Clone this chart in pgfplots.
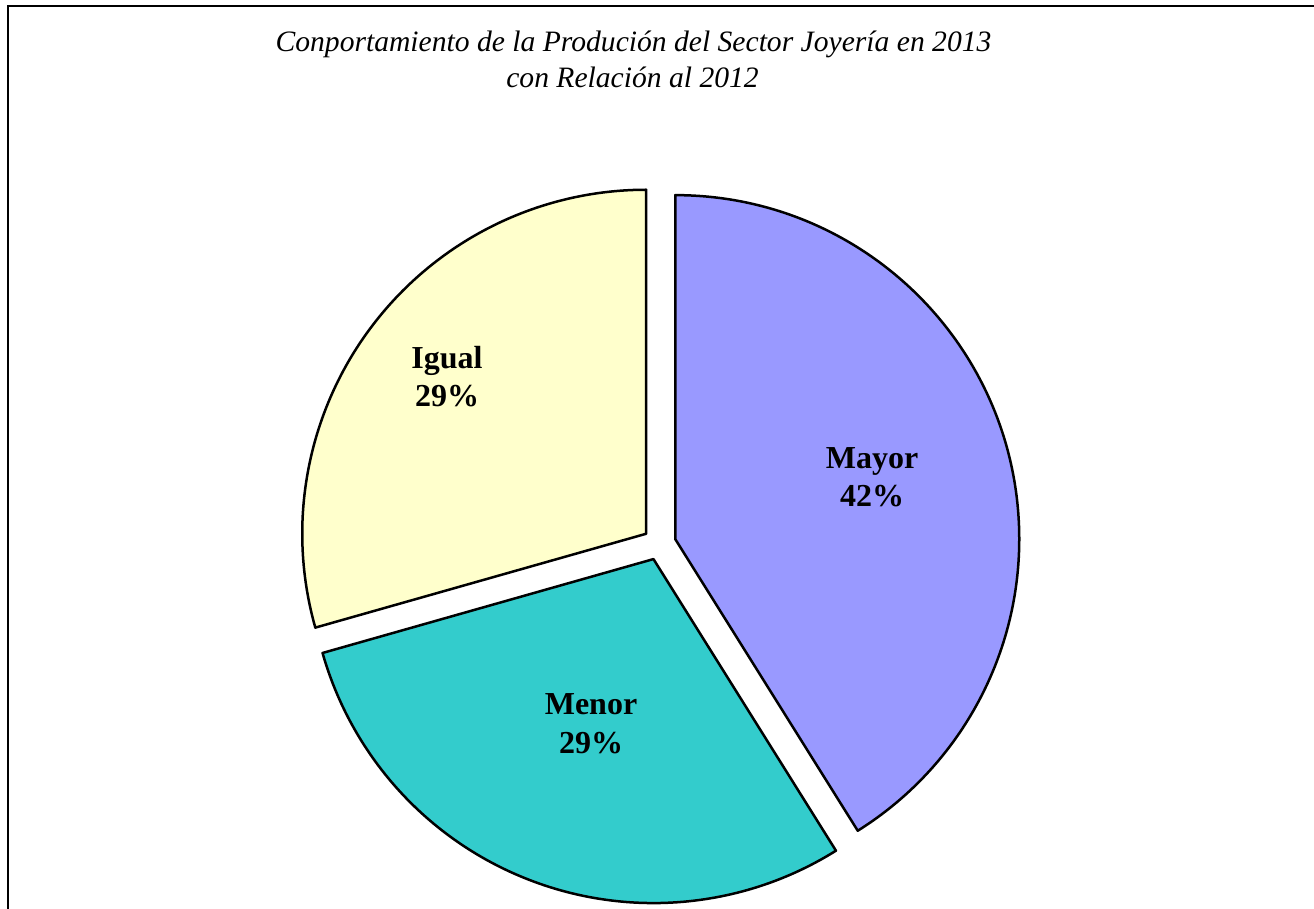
\documentclass[border=0pt]{standalone}
\usepackage{fontspec}
\setmainfont{Liberation Serif}
\usepackage{pgfplots}
\usepackage{pgfplotstable}
\pgfplotsset{compat=1.18}
\definecolor{mayor}{HTML}{9999FF}
\definecolor{menor}{HTML}{33CCCC}
\definecolor{igual}{HTML}{FFFFCC}

% slice values (share of the pie, clockwise from 12 o'clock)
\pgfplotstableread{
label value
Mayor 41.1
Menor 29.5
Igual 29.4
}\piedata

% label positions (picture units) and texts
\pgfplotstableread{
x y lab
872 440 Mayor
591 194 Menor
447 540 Igual
}\namedata
\pgfplotstableread{
x y lab
872 402 42\%
591 155 29\%
447 502 29\%
}\pctdata

\begin{document}
\begin{tikzpicture}
\pgfplotstablegetelem{0}{value}\of\piedata \let\vA\pgfplotsretval
\pgfplotstablegetelem{1}{value}\of\piedata \let\vB\pgfplotsretval
\pgfplotstablegetelem{2}{value}\of\piedata \let\vC\pgfplotsretval
\pgfmathsetmacro\sA{90}
\pgfmathsetmacro\eA{\sA-3.6*\vA}
\pgfmathsetmacro\eB{\eA-3.6*\vB}
\pgfmathsetmacro\eC{\eB-3.6*\vC}
\pgfmathsetmacro\mA{(\sA+\eA)/2}
\pgfmathsetmacro\mB{(\eA+\eB)/2}
\pgfmathsetmacro\mC{(\eB+\eC)/2}
\def\cx{659.4}\def\cy{365.3}\def\ex{16.5}
\pgfmathsetmacro\xA{\cx+\ex*cos(\mA)}\pgfmathsetmacro\yA{\cy+\ex*sin(\mA)}
\pgfmathsetmacro\xB{\cx+\ex*cos(\mB)}\pgfmathsetmacro\yB{\cy+\ex*sin(\mB)}
\pgfmathsetmacro\xC{\cx+\ex*cos(\mC)}\pgfmathsetmacro\yC{\cy+\ex*sin(\mC)}
\begin{axis}[at={(0,0)}, anchor=south west, scale only axis,
  width=657pt, height=454.5pt,
  xmin=0, xmax=1314, ymin=0, ymax=909,
  enlargelimits=false, hide axis, clip=false]
\draw[line width=1.1pt] (axis cs:8.3,0) -- (axis cs:8.3,902.8) -- (axis cs:1314,902.8);
\filldraw[fill=mayor, draw=black, line width=1.25pt, line join=round]
  (axis cs:\xA,\yA) -- ++(\sA:172pt) arc[start angle=\sA, end angle=\eA, radius=172pt] -- cycle;
\filldraw[fill=menor, draw=black, line width=1.25pt, line join=round]
  (axis cs:\xB,\yB) -- ++(\eA:172pt) arc[start angle=\eA, end angle=\eB, radius=172pt] -- cycle;
\filldraw[fill=igual, draw=black, line width=1.25pt, line join=round]
  (axis cs:\xC,\yC) -- ++(\eB:172pt) arc[start angle=\eB, end angle=\eC, radius=172pt] -- cycle;
\addplot[draw=none, mark=none, nodes near coords, point meta=explicit symbolic,
  nodes near coords style={anchor=base, font=\fontsize{16}{19}\selectfont\bfseries, inner sep=0pt}]
  table[x=x, y=y, meta=lab] {\namedata};
\addplot[draw=none, mark=none, nodes near coords, point meta=explicit symbolic,
  nodes near coords style={anchor=base, font=\fontsize{16}{19}\selectfont\bfseries, inner sep=0pt}]
  table[x=x, y=y, meta=lab] {\pctdata};
\node[anchor=base, inner sep=0pt, font=\fontsize{14.8}{17}\selectfont\itshape] at (axis cs:633.5,857)
  {Conportamiento de la Produción del Sector Joyería en 2013};
\node[anchor=base, inner sep=0pt, font=\fontsize{14.8}{17}\selectfont\itshape] at (axis cs:632.5,821)
  {con Relación al 2012};
\end{axis}
\pgfresetboundingbox
\path (0,0) rectangle (657pt,454.5pt);
\end{tikzpicture}
\end{document}
